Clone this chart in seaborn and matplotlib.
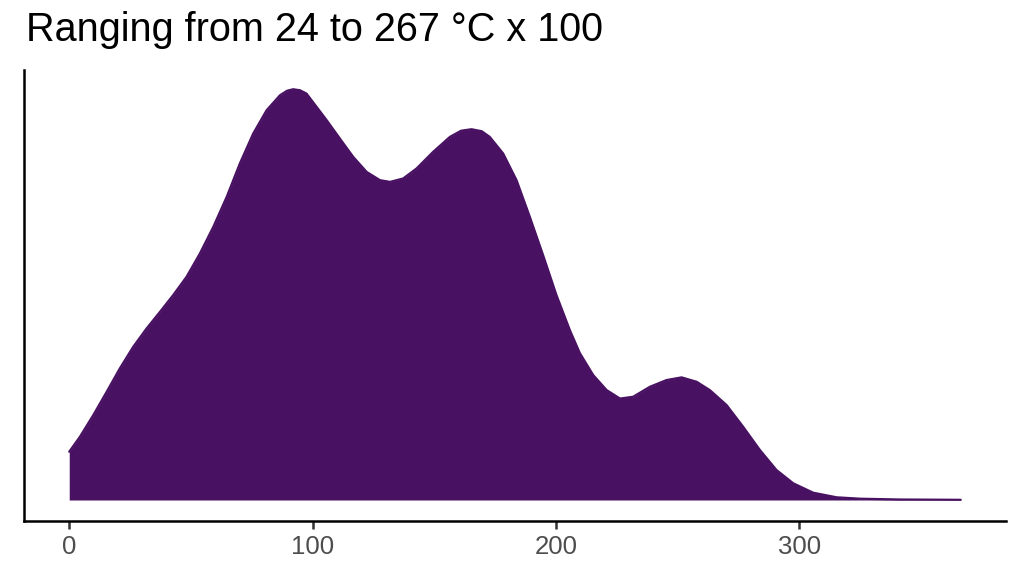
import numpy as np
import pandas as pd
import matplotlib
matplotlib.use("Agg")
import matplotlib.pyplot as plt
import seaborn as sns

# valores (x, densidad en unidades relativas)
temp = [0, 4.4, 9.9, 15.4, 20.8, 26.3, 31.8, 37.3, 42.7, 48.2, 53.7, 59.2,
        64.7, 70.1, 75.6, 81.1, 86.6, 89.5, 92.0, 94.8, 97.5, 100.2, 105.8,
        111.2, 116.7, 122.2, 127.7, 131.8, 137.2, 142.7, 149.5, 156.4, 161.0,
        165.3, 169.5, 172.8, 178.3, 183.8, 189.3, 194.7, 200.2, 205.7, 209.8,
        215.3, 220.8, 226.3, 231.7, 238.6, 245.4, 251.6, 257.8, 263.2, 270.1,
        276.9, 283.8, 290.6, 297.5, 305.7, 315.3, 324.9, 341.3, 366.3]
densidad = [48.3, 63.3, 85, 108.3, 131.7, 153.3, 171.7, 188.3, 205, 223.3,
            246.7, 273.3, 303.3, 336.7, 366.7, 390, 405, 409.5, 411, 410,
            406.7, 398, 380, 361.7, 343.3, 328.3, 320, 318.3, 321.7, 331.7,
            348.3, 363.3, 369.5, 371, 369, 363.3, 346.7, 320, 283, 245, 205,
            170, 147, 125, 110, 101.5, 103.3, 113.3, 120, 122.7, 118.3,
            110, 95, 73.3, 50, 30, 16.7, 7.3, 2.7, 1.3, 0.5, 0.2]
ticks_x = [0, 100, 200, 300]
titulo = "Ranging from 24 to 267 °C x 100"

df = pd.DataFrame({"temp": temp, "densidad": densidad})
color = "#481162"

sns.set_style("white")
plt.rcParams["font.family"] = ["Liberation Sans", "DejaVu Sans"]

fig = plt.figure(figsize=(10.24, 5.76), dpi=100)
ax = fig.add_axes([0.0234, 0.0955, 0.9590, 0.7825])

ax.fill_between(df.temp, 0, df.densidad, color=color, linewidth=0)
sns.lineplot(data=df, x="temp", y="densidad", color=color, linewidth=1.6,
             ax=ax, solid_joinstyle="round")

ax.set_xlim(-18.6, 384.9)
ax.set_ylim(-21, 430)
ax.set_xticks(ticks_x)
ax.set_yticks([])
ax.set_xlabel("")
ax.set_ylabel("")
ax.tick_params(axis="x", bottom=True, direction="out", length=6, width=1.8,
               color="#333333", labelcolor="#4d4d4d", labelsize=18.5, pad=4)
for s in ["top", "right"]:
    ax.spines[s].set_visible(False)
for s in ["left", "bottom"]:
    ax.spines[s].set_color("black")
    ax.spines[s].set_linewidth(1.8)

fig.text(0.0254, 0.9475, titulo, fontsize=28.5, color="black", va="center", ha="left")

fig.savefig("out.png", dpi=100)
